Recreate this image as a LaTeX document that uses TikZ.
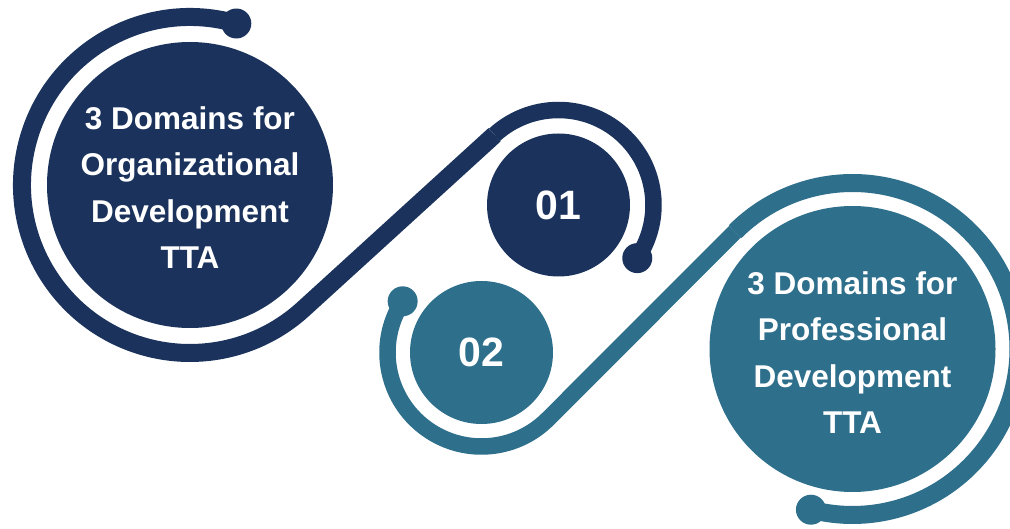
\documentclass[tikz,border=0pt]{standalone}
\usepackage{fontspec}
\setmainfont{Liberation Sans}
\usetikzlibrary{calc}
\definecolor{navy}{RGB}{27,51,92}
\definecolor{tealc}{RGB}{46,111,140}
\begin{document}
\begin{tikzpicture}[x=1pt,y=1pt,
  bigdisc/.style={circle,minimum size=286pt,inner sep=0pt},
  bigtext/.style={text=white,align=center,inner sep=0pt,
    font=\bfseries\fontsize{31.5}{46.5}\selectfont},
  smalldisc/.style={circle,minimum size=143pt,inner sep=0pt,text=white,
    font=\bfseries\fontsize{41}{41}\selectfont},
  bigline/.style={line width=18pt},
  smallline/.style={line width=16.5pt},
  enddot/.style={circle,minimum size=30pt,inner sep=0pt}]
\useasboundingbox (0,0) rectangle (1010,528);
\clip (0,0) rectangle (1010,528);
\coordinate (c1) at (190,343);
\coordinate (c01) at (558.5,323);
\coordinate (c02) at (481.5,175.5);
\coordinate (c2) at (852.5,179);
% navy track
\draw[navy,bigline] ($(c1)+(74:168pt)$) arc[start angle=74,end angle=312.34,radius=168pt]
  -- ($(c01)+(132.34:95pt)$);
\draw[navy,smallline] ($(c01)+(132.34:95pt)$) arc[start angle=132.34,end angle=-34,radius=95pt];
% teal track
\draw[tealc,smallline] ($(c02)+(147:94pt)$) arc[start angle=147,end angle=315.03,radius=94pt]
  -- ($(c2)+(135.03:166pt)$);
\draw[tealc,bigline] ($(c2)+(135.03:166pt)$) arc[start angle=135.03,end angle=-104.5,radius=166pt];
% end dots
\node[enddot,fill=navy] (d1) at ($(c1)+(74:168pt)$) {};
\node[enddot,fill=navy] (d01) at ($(c01)+(-34:95pt)$) {};
\node[enddot,fill=tealc] (d02) at ($(c02)+(147:94pt)$) {};
\node[enddot,fill=tealc] (d2) at ($(c2)+(-104.5:166pt)$) {};
% discs
\node[bigdisc,fill=navy] (n1) at (c1) {};
\node[bigtext] (t1) at ($(c1)+(0,-2.5)$) {3 Domains for\\Organizational\\Development\\TTA};
\node[smalldisc,fill=navy] (n01) at (c01) {01};
\node[smalldisc,fill=tealc] (n02) at (c02) {02};
\node[bigdisc,fill=tealc] (n2) at (c2) {};
\node[bigtext] (t2) at ($(c2)+(0,-3.5)$) {3 Domains for\\Professional\\Development\\TTA};
\end{tikzpicture}
\end{document}
